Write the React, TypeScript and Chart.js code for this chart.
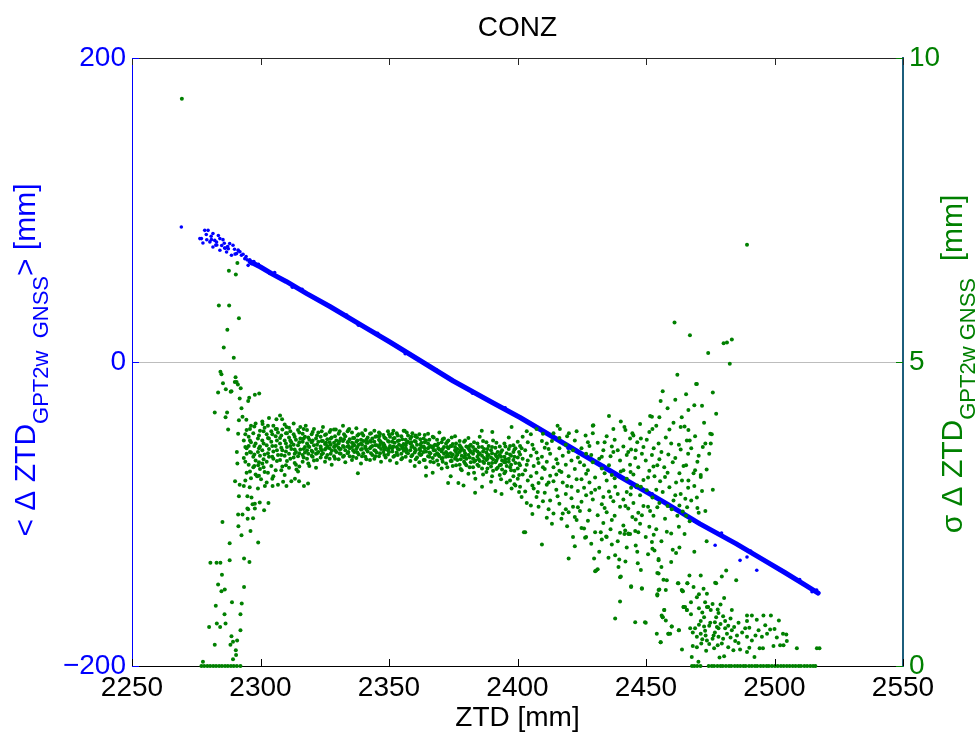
import React, { useEffect, useRef } from 'react';
import { Chart, registerables } from 'chart.js';

Chart.register(...registerables);

const FONT = "'Liberation Sans', Arial, Helvetica, sans-serif";
const BLUE = '#0000ff';
const GREEN = '#008000';
const RIGHT_AXIS = '#1c5e7c';

const chartTitle = 'CONZ';
const xAxisLabel = 'ZTD [mm]';
const xTicks = [2250, 2300, 2350, 2400, 2450, 2500, 2550];
const leftTicks = [-200, 0, 200];
const rightTicks = [0, 5, 10];

// < dZTD > : dense band vertices (mm ZTD, mm bias)
const biasBandZtd = [2296, 2300, 2305, 2310, 2318, 2327, 2341, 2350, 2363, 2375, 2390, 2401, 2415, 2427, 2440, 2458, 2471, 2485, 2497, 2504, 2512, 2517];
const biasBandValue = [66, 62.5, 57.5, 53, 45, 36.5, 22.5, 13.5, 0, -12.5, -26.5, -36.5, -50.5, -62.5, -75.5, -93.2, -106.5, -119.5, -131.5, -138.5, -146.8, -152];

// < dZTD > : individual dots
const biasDotZtd = [2269.2, 2278.3, 2279.6, 2281.5, 2277.0, 2277.6, 2280.3, 2282.2, 2284.2, 2285.4, 2288.0, 2289.3, 2281.5, 2284.2, 2286.8, 2288.7, 2290.7, 2292.6, 2293.9, 2295.2, 2296.5, 2298.4, 2301.0, 2303.6, 2283.0, 2286.0, 2276.4, 2291.5, 2287.5, 2294.8, 2305.5, 2312.4, 2316.2, 2322.9, 2333.5, 2338.1, 2345.6, 2356.3, 2368.4, 2382.5, 2395.2, 2408.6, 2419.7, 2433.3, 2446.2, 2452.4, 2463.5, 2468.8, 2479.4, 2490.7, 2501.6, 2509.8, 2514.6, 2516.4, 2507.2, 2476.9, 2486.6, 2489.3, 2493.1,
  2278.9, 2280.8, 2282.9, 2283.6, 2285.9, 2287.2, 2289.9, 2291.3, 2292.0, 2293.2, 2294.4, 2295.8, 2297.4, 2299.2, 2290.1, 2286.3, 2284.9, 2282.6, 2280.9, 2279.1];
const biasDotValue = [88.8, 86.6, 86.6, 84.5, 81.2, 78.3, 79.0, 80.0, 81.2, 80.5, 77.9, 76.8, 75.7, 73.5, 72.4, 70.2, 71.3, 70.2, 68.0, 63.6, 64.7, 63.6, 61.4, 58.2, 77.0, 75.0, 81.2, 73.0, 74.5, 67.2, 58.8, 49.2, 47.8, 40.1, 30.9, 24.2, 18.9, 5.4, -5.2, -20.6, -30.2, -44.1, -56.8, -68.2, -82.6, -86.7, -98.9, -104.6, -112.5, -124.4, -136.4, -143.2, -151.2, -150.0, -141.9, -120.6, -130.5, -128.3, -137.0,
  83.9, 82.7, 78.9, 83.2, 78.1, 76.0, 74.2, 73.6, 72.5, 70.9, 69.4, 67.3, 66.1, 64.2, 71.0, 74.9, 76.6, 76.9, 80.5, 80.4];

type Column = [number, number[]];

// sigma dZTD : columns of [ZTD, sigma values]
const sigmaSpike: Column[] = [
  [2269.4, [9.33]], [2277.6, [0.07]], [2280.0, [0.64]], [2280.5, [1.70]], [2282.2, [4.17, 0.35]],
  [2282.6, [0.99]], [2282.9, [1.70]], [2283.0, [0.70]], [2283.5, [4.50, 1.34]], [2283.8, [5.93]],
  [2284.3, [0.64]], [2284.4, [4.84, 1.70]], [2284.8, [4.80, 1.23]], [2285.0, [1.50]], [2285.2, [2.37]],
  [2285.4, [4.65]], [2285.7, [5.24]], [2286.0, [0.85]], [2286.1, [1.26]], [2286.4, [4.09, 0.70]],
  [2286.5, [4.55]], [2287.0, [4.17]], [2287.1, [5.53]], [2287.4, [3.89]], [2287.7, [6.50]],
  [2287.8, [5.93]], [2288.0, [2.02, 1.74]], [2288.3, [0.35]], [2288.4, [4.51]], [2288.7, [4.52, 0.49]],
  [2288.9, [1.05]], [2289.3, [0.40, 0.11]], [2289.6, [5.07]], [2290.0, [4.67]], [2290.1, [3.04]],
  [2290.3, [4.75]], [2290.4, [6.44, 0.26]], [2290.5, [0.18]], [2290.7, [4.67]], [2290.8, [3.52]],
  [2290.9, [0.42]], [2291.0, [6.63, 3.33]], [2291.2, [4.63]], [2291.3, [3.82, 2.49]], [2291.4, [2.30]],
  [2291.6, [5.72, 4.04, 2.79]], [2291.9, [4.40, 2.98]], [2292.2, [0.85, 0.59]], [2292.3, [4.57]], [2292.6, [4.24, 2.15]],
  [2292.7, [1.03]], [2293.0, [4.10, 2.49]], [2293.6, [1.30, 1.77]], [2294.5, [4.05]], [2294.9, [2.79, 2.59]],
  [2295.0, [2.42]], [2295.2, [4.36, 2.58]], [2295.6, [4.41]], [2295.7, [1.71]], [2296.1, [2.22]],
  [2296.5, [2.77]], [2296.9, [2.66]], [2297.1, [2.43]], [2297.8, [4.46, 2.67, 2.59]], [2299.1, [2.03]],
  [2299.5, [4.48]], [2299.7, [2.69]], [2301.4, [2.56]], [2303.1, [2.68]],
];

const sigmaBand: Column[] = [
  [2293.5, [3.42, 3.71, 2.96]], [2294.6, [3.58, 3.88, 3.18, 3.49]], [2295.4, [3.31, 3.77, 3.62]], [2296.3, [3.95, 3.51, 3.09, 3.68]],
  [2297.2, [3.44, 3.83, 3.27]], [2298.1, [3.66, 3.99, 3.38, 3.15]], [2299.0, [3.52, 3.74, 2.92]], [2299.8, [3.87, 3.46, 3.61, 3.24]],
  [2300.7, [3.71, 3.33, 4.02, 3.55]], [2301.6, [3.48, 3.92, 3.19]], [2302.4, [3.63, 3.81, 3.36, 3.02]], [2303.3, [3.57, 4.08, 3.44, 3.74]],
  [2304.2, [3.29, 3.69, 3.86]], [2305.0, [3.53, 3.95, 3.41, 3.12]], [2305.9, [3.78, 3.62, 3.22, 3.9]], [2306.8, [3.47, 3.84, 2.98]],
  [2307.6, [3.66, 3.39, 3.75, 4.12]], [2308.5, [3.55, 3.28, 3.89]], [2309.4, [3.71, 3.46, 3.97, 3.14]], [2310.3, [3.6, 3.83, 3.37]],
  [2311.1, [3.49, 3.76, 3.26, 3.92]], [2312.0, [3.68, 3.57, 3.04]], [2312.9, [3.81, 3.43, 3.64, 3.99]], [2313.8, [3.52, 3.72, 3.31]],
  [2314.6, [3.63, 3.88, 3.45, 3.2]], [2315.5, [3.74, 3.56, 3.93]], [2316.4, [3.47, 3.69, 3.82, 3.36]], [2317.3, [3.6, 3.51, 3.77]],
  [2318.1, [3.66, 3.41, 3.88, 3.55]], [2319.0, [3.72, 3.29, 3.6]], [2319.9, [3.54, 3.81, 3.46, 3.68]], [2320.8, [3.63, 3.38, 3.9]],
  [2321.6, [3.57, 3.74, 3.49, 3.26]], [2322.5, [3.69, 3.52, 3.84]], [2323.4, [3.61, 3.43, 3.77, 3.58]], [2324.3, [3.5, 3.7, 3.93]],
  [2325.1, [3.65, 3.56, 3.36, 3.8]], [2326.0, [3.73, 3.47, 3.62]], [2326.9, [3.58, 3.85, 3.41, 3.68]], [2327.7, [3.54, 3.76, 3.31]],
  [2328.6, [3.67, 3.6, 3.89, 3.45]], [2329.5, [3.71, 3.52, 3.63]], [2330.4, [3.59, 3.82, 3.4, 3.66]], [2331.2, [3.74, 3.49, 3.57]],
  [2332.1, [3.62, 3.95, 3.44, 3.7]], [2333.0, [3.55, 3.78, 3.35]], [2333.9, [3.68, 3.61, 3.86, 3.5]], [2334.7, [3.73, 3.45, 3.58]],
  [2335.6, [3.6, 3.84, 3.39, 3.67]], [2336.5, [3.52, 3.75, 3.63]], [2337.3, [3.69, 3.57, 3.91, 3.42]], [2338.2, [3.64, 3.81, 3.48]],
  [2339.1, [3.56, 3.72, 3.33, 3.66]], [2340.0, [3.7, 3.5, 3.79]], [2340.8, [3.61, 3.88, 3.44, 3.59]], [2341.7, [3.67, 3.53, 3.76]],
  [2342.6, [3.58, 3.82, 3.39, 3.7]], [2343.5, [3.74, 3.47, 3.62]], [2344.3, [3.55, 3.69, 3.87, 3.41]], [2345.2, [3.63, 3.78, 3.51]],
  [2346.1, [3.72, 3.45, 3.6, 3.84]], [2346.9, [3.57, 3.68, 3.36]], [2347.8, [3.66, 3.52, 3.8, 3.61]], [2348.7, [3.59, 3.74, 3.43]],
  [2349.6, [3.7, 3.55, 3.86, 3.48]], [2350.4, [3.62, 3.77, 3.38]], [2351.3, [3.53, 3.69, 3.58, 3.82]], [2352.2, [3.67, 3.46, 3.75]],
  [2353.0, [3.6, 3.83, 3.51, 3.34]], [2353.9, [3.71, 3.56, 3.64]], [2354.8, [3.49, 3.78, 3.62, 3.4]], [2355.7, [3.65, 3.54, 3.87]],
  [2356.5, [3.58, 3.72, 3.44, 3.63]], [2357.4, [3.69, 3.5, 3.79]], [2358.3, [3.55, 3.66, 3.37, 3.74]], [2359.1, [3.62, 3.47, 3.83]],
  [2360.0, [3.51, 3.7, 3.58, 3.29]], [2360.9, [3.64, 3.43, 3.76]], [2361.8, [3.57, 3.81, 3.49, 3.35]], [2362.6, [3.48, 3.67, 3.6]],
  [2363.5, [3.61, 3.39, 3.74, 3.52]], [2364.4, [3.53, 3.71, 3.27]], [2365.2, [3.66, 3.45, 3.58, 3.82]], [2366.1, [3.5, 3.62, 3.36]],
  [2367.0, [3.59, 3.77, 3.42, 3.18]], [2367.9, [3.47, 3.64, 3.55]], [2368.7, [3.63, 3.38, 3.72, 3.5]], [2369.6, [3.56, 3.45, 3.84]],
  [2370.5, [3.41, 3.68, 3.53, 3.25]], [2371.4, [3.6, 3.49, 3.74]], [2372.2, [3.52, 3.33, 3.66, 3.44]], [2373.1, [3.45, 3.71, 3.58]],
  [2374.0, [3.62, 3.37, 3.5, 3.12]], [2374.8, [3.48, 3.65, 3.29]], [2375.7, [3.55, 3.41, 3.78, 3.6]], [2376.6, [3.39, 3.57, 3.48]],
  [2377.5, [3.63, 3.31, 3.52, 3.7]], [2378.3, [3.46, 3.58, 3.22]], [2379.2, [3.54, 3.36, 3.69, 3.43]], [2380.1, [3.41, 3.61, 3.3]],
  [2380.9, [3.58, 3.47, 3.16, 3.75]], [2381.8, [3.35, 3.52, 3.64]], [2382.7, [3.49, 3.27, 3.6, 3.41]], [2383.6, [3.56, 3.38, 3.08]],
  [2384.4, [3.44, 3.66, 3.31, 3.53]], [2385.3, [3.37, 3.5, 3.77]], [2386.2, [3.6, 3.25, 3.46, 2.95]], [2387.0, [3.42, 3.57, 3.34]],
  [2387.9, [3.51, 3.19, 3.68, 3.39]], [2388.8, [3.33, 3.47, 3.62]], [2389.7, [3.55, 3.28, 3.43, 3.03]], [2390.5, [3.4, 3.71, 3.21]],
  [2391.4, [3.48, 3.35, 3.59, 2.88]], [2392.3, [3.26, 3.52, 3.42]], [2393.1, [3.61, 3.3, 3.47, 3.14]], [2394.0, [3.38, 3.55, 3.23]],
  [2394.9, [3.44, 3.17, 3.66, 3.35]], [2395.8, [3.29, 3.5, 3.02]], [2396.6, [3.57, 3.36, 3.41, 3.76]], [2397.5, [3.22, 3.46, 3.31]],
  [2398.4, [3.52, 3.12, 3.39, 3.63]], [2399.2, [3.34, 3.58, 2.97]], [2400.1, [3.43, 3.25, 3.69, 3.08]],
];

const sigmaBandFill: Column[] = [
  [2294.1, [3.36, 3.81, 3.05, 3.6]], [2295.9, [3.52, 3.2, 3.9, 3.71]], [2297.6, [3.29, 3.62, 3.94, 3.48]], [2299.4, [3.58, 3.35, 3.79, 3.13]],
  [2301.2, [3.66, 3.4, 3.27, 3.86]], [2302.9, [3.5, 3.75, 3.18, 3.95]], [2304.6, [3.62, 3.44, 3.81, 3.08]], [2306.4, [3.37, 3.71, 3.55, 3.9]],
  [2308.1, [3.59, 3.47, 3.79, 3.22]], [2309.9, [3.83, 3.53, 3.3, 3.66]], [2311.6, [3.62, 3.41, 3.86, 3.71]], [2313.3, [3.56, 3.77, 3.34, 3.49]],
  [2315.1, [3.68, 3.5, 3.84, 3.28]], [2316.8, [3.57, 3.74, 3.43, 3.9]], [2318.6, [3.76, 3.49, 3.62, 3.33]], [2320.3, [3.52, 3.71, 3.44, 3.85]],
  [2322.0, [3.64, 3.5, 3.79, 3.39]], [2323.8, [3.7, 3.48, 3.86, 3.55]], [2325.5, [3.58, 3.81, 3.43, 3.67]], [2327.3, [3.64, 3.49, 3.74, 3.88]],
  [2329.0, [3.55, 3.78, 3.41, 3.62]], [2330.8, [3.7, 3.5, 3.86, 3.57]], [2332.5, [3.6, 3.81, 3.46, 3.73]], [2334.2, [3.52, 3.69, 3.88, 3.62]],
  [2336.0, [3.75, 3.55, 3.44, 3.66]], [2337.7, [3.6, 3.79, 3.51, 3.71]], [2339.5, [3.64, 3.45, 3.83, 3.57]], [2341.2, [3.72, 3.56, 3.4, 3.67]],
  [2343.0, [3.6, 3.83, 3.5, 3.69]], [2344.7, [3.77, 3.54, 3.63, 3.45]], [2346.5, [3.64, 3.5, 3.82, 3.7]], [2348.2, [3.56, 3.76, 3.47, 3.63]],
  [2350.0, [3.69, 3.52, 3.81, 3.58]], [2351.7, [3.61, 3.44, 3.74, 3.87]], [2353.4, [3.7, 3.57, 3.47, 3.79]], [2355.2, [3.58, 3.73, 3.42, 3.62]],
  [2356.9, [3.67, 3.51, 3.84, 3.55]], [2358.7, [3.6, 3.77, 3.45, 3.68]], [2360.4, [3.55, 3.69, 3.4, 3.79]], [2362.2, [3.64, 3.47, 3.73, 3.54]],
  [2363.9, [3.58, 3.39, 3.68, 3.8]], [2365.7, [3.51, 3.72, 3.44, 3.6]], [2367.4, [3.62, 3.35, 3.55, 3.76]], [2369.2, [3.48, 3.66, 3.31, 3.58]],
  [2370.9, [3.57, 3.42, 3.73, 3.36]], [2372.7, [3.6, 3.49, 3.27, 3.69]], [2374.4, [3.44, 3.62, 3.37, 3.76]], [2376.1, [3.52, 3.3, 3.66, 3.45]],
  [2377.9, [3.4, 3.6, 3.24, 3.55]], [2379.6, [3.5, 3.33, 3.71, 3.46]], [2381.4, [3.43, 3.62, 3.27, 3.55]], [2383.1, [3.36, 3.54, 3.18, 3.68]],
  [2384.9, [3.48, 3.29, 3.6, 3.4]], [2386.6, [3.53, 3.36, 3.15, 3.7]], [2388.3, [3.41, 3.57, 3.25, 3.46]], [2390.1, [3.34, 3.6, 3.12, 3.5]],
  [2391.8, [3.45, 3.24, 3.67, 3.38]], [2393.6, [3.31, 3.52, 3.07, 3.44]], [2395.3, [3.4, 3.61, 3.2, 3.35]], [2397.1, [3.27, 3.48, 3.05, 3.62]],
  [2398.8, [3.44, 3.21, 3.56, 2.99]], [2400.6, [3.33, 3.52, 3.14, 2.86]],
];

const sigmaBandEdges: Column[] = [
  [2298.7, [3.12]], [2300.2, [3.07]], [2295.8, [2.94]], [2301.7, [2.96]], [2304.7, [2.96]], [2308.8, [3.03]],
  [2310.1, [2.96, 3.93]], [2313.4, [3.08]], [2315.0, [3.04]], [2316.9, [2.96]], [2318.5, [3.0]], [2314.0, [3.23]],
  [2299.1, [3.3]], [2300.8, [3.98]], [2306.2, [4.06]], [2308.4, [4.06]], [2317.6, [3.95]], [2337.9, [3.17]],
  [2346.2, [3.78]], [2329.3, [3.89]], [2334.5, [3.9]], [2356.1, [3.87]], [2360.2, [3.78]], [2364.4, [3.13]],
  [2397.7, [3.93, 2.92]], [2390.2, [3.85]], [2386.1, [3.87]], [2383.5, [2.85]], [2373.0, [3.01]], [2377.0, [3.01]],
  [2379.0, [2.97]], [2393.8, [2.83]], [2402.5, [2.2]], [2416.5, [3.9]], [2420.0, [3.83]], [2426.5, [3.79]], [2429.5, [3.96]],
];

const sigmaSpread: Column[] = [
  [2401.0, [3.3, 3.62, 2.95, 3.48]], [2402.0, [3.15, 3.77, 3.41]], [2403.0, [2.2, 3.55, 3.22, 2.87]], [2404.0, [3.38, 3.05, 3.68]],
  [2405.2, [2.64, 3.46, 3.12, 3.81]], [2406.3, [3.29, 2.92, 3.57]], [2407.4, [3.51, 3.18, 2.78, 3.9]], [2408.2, [2.62, 3.34, 3.01]],
  [2409.5, [2.0, 3.44, 3.09, 3.7]], [2410.6, [3.24, 2.85, 3.59]], [2411.4, [2.44, 3.36, 3.66, 2.98]], [2412.7, [3.13, 3.49, 2.72]],
  [2414.0, [2.51, 3.27, 3.83, 3.04]], [2415.1, [3.4, 2.9, 3.15]], [2416.3, [3.58, 2.67, 3.21, 3.75]], [2417.6, [2.51, 3.02, 3.46]],
  [2418.8, [3.31, 2.83, 3.64, 2.58]], [2419.9, [1.77, 2.53, 3.12, 3.52]], [2421.0, [3.38, 2.76, 2.95]], [2422.3, [1.97, 2.45, 3.24, 3.71]],
  [2423.5, [2.88, 3.43, 2.61]], [2424.9, [2.27, 3.07, 3.58, 2.7]], [2425.9, [2.26, 3.3, 2.93]], [2426.7, [2.12, 3.49, 2.81, 3.16]],
  [2428.0, [3.62, 2.56, 3.02]], [2429.3, [3.95, 2.74, 3.35, 3.83]], [2430.2, [1.56, 2.2, 3.1, 2.9]], [2431.2, [1.59, 2.48, 3.67]],
  [2432.8, [2.08, 3.25, 2.66, 3.44]], [2433.4, [2.78, 3.55, 2.35]], [2434.7, [2.12, 3.05, 2.53, 3.78]], [2435.6, [4.11, 2.87, 3.3]],
  [2436.7, [2.0, 2.4, 3.14, 3.61]], [2437.3, [3.52, 2.71, 3.9]], [2438.0, [1.82, 2.95, 0.78]], [2439.9, [1.46, 2.19, 3.38, 1.06, 2.62]],
  [2440.2, [4.02, 1.47, 3.2]], [2426.3, [2.11]], [2429.8, [1.77]], [2430.6, [1.57]], [2432.4, [2.2]], [2434.5, [2.13]],
  [2435.4, [1.78]], [2439.6, [1.75]], [2439.3, [1.63]], [2441.9, [2.23]], [2443.2, [2.17]], [2446.8, [1.69]],
  [2441.2, [3.22, 2.74, 3.61, 2.31]], [2441.6, [2.17, 3.93]], [2442.5, [2.86, 3.47, 1.95, 3.08]], [2443.1, [3.52, 2.18, 2.59]],
  [2443.8, [2.17, 3.31, 3.74]], [2444.2, [1.31, 2.93, 3.56]], [2444.7, [3.83, 2.45]], [2445.1, [3.79, 2.68, 3.15]],
  [2445.8, [0.72, 2.22, 3.42]], [2446.6, [1.88, 2.97, 3.68]], [2447.0, [2.2, 3.27, 2.52]], [2447.7, [3.98, 2.34, 2.81]],
  [2448.4, [1.28, 2.48, 3.49]], [2449.0, [3.6, 2.63, 3.06]], [2449.9, [0.71, 3.38, 2.12]], [2450.3, [2.89, 3.72]],
  [2451.3, [3.85, 2.29, 3.21]], [2451.6, [4.11, 2.55]], [2452.3, [4.1, 2.04, 3.47]], [2452.5, [3.9, 1.93, 2.77]],
  [2453.0, [2.16, 3.58]], [2453.3, [1.9, 3.12]], [2454.4, [3.3, 1.53, 1.18, 2.61]], [2454.9, [1.52, 1.74, 1.25, 3.66]],
  [2455.2, [4.09, 2.68, 3.4]], [2455.5, [3.04]], [2455.7, [4.36, 0.39]], [2456.5, [4.52, 0.8, 2.86]],
  [2457.1, [0.92, 3.27]], [2457.4, [3.11, 2.42]], [2457.7, [0.75, 3.76]], [2458.1, [1.41, 2.21]],
  [2458.7, [0.53, 3.48]], [2459.1, [2.94, 3.89]], [2460.0, [0.65, 2.58]], [2460.4, [1.91, 3.35]],
  [2460.7, [4.0, 2.72]], [2461.1, [5.65]], [2461.7, [1.86, 3.02]], [2462.2, [4.79, 2.47]],
  [2462.8, [2.29, 0.59, 3.64]], [2463.5, [3.93, 3.56, 2.83]], [2463.9, [4.09]], [2464.0, [3.05, 0.27]],
  [2464.3, [1.23, 2.54]], [2464.6, [0.97, 3.29]], [2465.0, [3.94, 2.17]], [2465.3, [2.75]],
  [2465.9, [0.92, 3.71]], [2466.0, [2.61]], [2466.1, [1.36]], [2466.4, [3.49, 2.93]],
  [2466.5, [4.21, 3.88, 3.05]], [2467.0, [3.71, 2.38]], [2467.1, [5.44]], [2469.1, [3.78, 3.22]],
  [2469.5, [4.64]], [2469.8, [4.64, 2.77]], [2470.5, [2.52, 3.46]], [2471.3, [3.11, 3.14]],
  [2472.1, [3.6]], [2472.6, [4.0]], [2473.1, [3.66, 2.55]], [2474.2, [5.15]], [2475.0, [3.82]],
  [2475.2, [3.66]], [2475.6, [3.81]], [2477.3, [4.15]], [2480.2, [5.31]], [2481.5, [5.32]],
  [2482.6, [4.97]], [2483.4, [5.37]], [2489.3, [6.93]],
];

const sigmaSpreadFill: Column[] = [
  [2401.6, [2.78, 3.58]], [2403.6, [3.31, 2.68, 3.86]], [2405.8, [2.97, 3.64, 2.5]], [2407.9, [3.41, 2.86]],
  [2409.9, [3.27, 2.71, 3.82]], [2412.1, [2.58, 3.57, 3.02]], [2413.4, [3.7, 2.34]], [2415.6, [2.79, 3.33, 3.95]],
  [2417.1, [3.19, 2.42]], [2419.3, [2.96, 3.78, 2.3]], [2421.6, [3.55, 2.62, 2.12]], [2423.0, [3.07, 3.86, 2.4]],
  [2424.3, [3.35, 2.55]], [2427.4, [2.39, 3.22, 3.68]], [2428.7, [2.85, 2.01, 3.47]], [2431.8, [2.93, 3.41, 1.88]],
  [2433.9, [3.68, 2.6, 3.17]], [2436.2, [2.78, 3.45, 2.25]], [2437.8, [3.09, 2.47, 3.72]], [2439.0, [2.83, 3.55, 2.05]],
  [2442.0, [2.63, 3.88, 1.72]], [2444.0, [2.82, 3.19]], [2446.0, [3.55, 2.41, 1.98]], [2448.0, [2.95, 3.74, 1.58]],
  [2450.8, [2.62, 3.1, 1.84]], [2452.9, [3.28, 2.47]], [2454.0, [2.9, 3.95, 2.25]], [2456.0, [3.52, 2.05, 1.63]],
  [2458.4, [2.63, 3.18, 4.24]], [2459.8, [2.18, 3.66, 1.71]], [2461.4, [3.42, 2.81, 4.38]], [2463.0, [2.64, 3.17, 1.95]],
  [2465.6, [3.3, 2.47, 4.47]], [2467.6, [2.72, 3.58]], [2468.8, [2.96, 4.29, 1.88]], [2470.0, [3.36, 2.6]],
  [2471.8, [4.28, 2.88]], [2473.6, [3.23, 2.05]], [2476.0, [4.5, 2.9]], [2474.6, [3.49]],
];

const sigmaLow: Column[] = [
  [2454.9, [1.76]], [2456.8, [1.42]], [2457.7, [1.25]], [2463.9, [1.25]], [2462.6, [1.36]], [2466.9, [1.49]],
  [2471.3, [1.49, 0.53, 0.74]], [2477.3, [1.36, 0.8]], [2479.5, [1.47, 0.37]], [2465.2, [0.97]], [2473.7, [0.97, 1.19, 0.42]],
  [2478.2, [0.87, 0.62, 0.48]], [2483.4, [0.92, 0.59]], [2456.1, [0.83]], [2449.6, [0.72]], [2454.2, [0.53]],
  [2459.4, [0.53]], [2470.4, [0.07]], [2462.4, [1.36]], [2466.1, [1.36]], [2464.3, [1.23]], [2468.5, [1.3, 3.17]],
  [2472.4, [1.27]], [2469.8, [1.13, 0.48, 0.31]], [2464.6, [0.97]], [2465.9, [0.92]], [2457.1, [0.92]],
  [2456.5, [0.8]], [2460.0, [0.65]], [2462.8, [0.59]], [2458.7, [0.53]], [2455.7, [0.39]], [2467.2, [0.62]],
  [2469.1, [0.62]], [2471.5, [0.37]], [2472.6, [0.8, 0.65]], [2474.2, [0.97]], [2475.2, [0.92]], [2477.6, [0.64]],
  [2476.3, [0.5]], [2473.4, [0.25]], [2480.8, [0.62, 0.74]], [2481.5, [0.53]], [2485.4, [0.5]], [2484.7, [0.41]],
  [2480.4, [1.12, 0.16]], [2476.9, [1.37]], [2481.2, [1.57]], [2485.1, [1.41]], [2489.3, [0.83, 0.74, 0.48, 0.23]],
  [2491.2, [0.83, 0.42]], [2493.1, [0.76]], [2495.7, [0.83]], [2498.6, [0.83]], [2488.6, [0.62]], [2493.8, [0.59]],
  [2495.1, [0.48]], [2497.1, [0.53]], [2498.3, [0.6]], [2500.9, [0.47]], [2503.3, [0.53]], [2504.6, [0.52]],
  [2502.2, [0.34]], [2503.5, [0.34]], [2495.5, [0.29]], [2494.2, [0.29]], [2492.2, [0.15]], [2486.6, [0.27]],
  [2484.0, [0.26]], [2478.6, [0.14]], [2476.5, [0.29]], [2508.7, [0.29]], [2516.5, [0.29]], [2517.5, [0.29]],
  [2499.6, [0.33]], [2504.8, [0.41]], [2467.8, [0.15]], [2475.0, [0.71]], [2473.2, [0.5]],
  [2467.5, [0.85, 1.05]], [2468.2, [0.55, 0.33]], [2470.6, [0.95, 0.68, 1.18]], [2471.9, [0.44, 0.88]],
  [2473.0, [1.05, 0.58]], [2474.6, [0.36, 0.66]], [2475.9, [1.02, 0.45]], [2476.8, [0.72, 0.55]],
  [2477.9, [0.93, 0.34]], [2479.0, [0.69, 1.01]], [2480.0, [0.45, 0.82]], [2482.0, [0.66, 0.31]],
  [2482.9, [0.78, 0.47]], [2484.3, [0.64]], [2486.0, [0.38, 0.71]], [2487.4, [0.55]], [2490.2, [0.63, 0.3]],
  [2492.6, [0.5]], [2496.4, [0.67]], [2500.0, [0.61]], [2501.7, [0.75]], [2444.2, [1.3]], [2448.4, [1.27]],
  [2454.4, [1.16]], [2455.2, [1.26]],
];

const sigmaZeroZtd = [
  2277.0, 2278.1, 2279.3, 2280.4, 2281.6, 2282.7, 2283.9, 2285.0, 2286.2, 2287.3, 2288.5, 2289.6, 2290.8, 2292.2,
  2467.9, 2468.8, 2469.9, 2471.2, 2474.4, 2475.6, 2476.5, 2477.8, 2479.0, 2479.9, 2481.1, 2482.3, 2483.2, 2484.5,
  2485.6, 2486.7, 2487.9, 2488.8, 2490.1, 2491.2, 2492.4, 2493.3, 2494.6, 2495.7, 2496.9, 2497.8, 2499.0, 2500.2,
  2501.3, 2502.5, 2503.6, 2504.8, 2505.9, 2507.1, 2508.2, 2509.4, 2510.3, 2511.6, 2512.7, 2513.9, 2515.0, 2515.9,
];

type Part = { text: string; sub?: boolean };
const leftLabelParts: Part[] = [
  { text: '< \u0394 ZTD' },
  { text: 'GPT2w  GNSS', sub: true },
  { text: '> [mm]' },
];
const rightLabelParts: Part[] = [
  { text: '\u03c3 \u0394 ZTD' },
  { text: 'GPT2w GNSS', sub: true },
  { text: '  [mm]' },
];

const MAIN_SIZE = 30;
const SUB_SIZE = 22;

function drawRich(ctx: CanvasRenderingContext2D, parts: Part[], baseX: number, centerY: number, color: string) {
  ctx.save();
  ctx.fillStyle = color;
  ctx.textBaseline = 'alphabetic';
  ctx.textAlign = 'left';
  let total = 0;
  const widths = parts.map((p) => {
    ctx.font = `${p.sub ? SUB_SIZE : MAIN_SIZE}px ${FONT}`;
    const w = ctx.measureText(p.text).width;
    total += w;
    return w;
  });
  ctx.translate(baseX, centerY);
  ctx.rotate(-Math.PI / 2);
  let x = -total / 2;
  parts.forEach((p, i) => {
    ctx.font = `${p.sub ? SUB_SIZE : MAIN_SIZE}px ${FONT}`;
    ctx.fillText(p.text, x, p.sub ? 13 : 0);
    x += widths[i];
  });
  ctx.restore();
}

const decorPlugin = {
  id: 'decor',
  afterDraw(chart: any) {
    const { ctx, chartArea: a, scales } = chart;
    const xs = scales.x;
    const yl = scales.y;
    const yr = scales.y2;
    ctx.save();
    ctx.lineWidth = 1;
    ctx.strokeStyle = '#262626';
    ctx.beginPath();
    ctx.moveTo(a.left, Math.round(a.top) + 0.5);
    ctx.lineTo(a.right, Math.round(a.top) + 0.5);
    ctx.stroke();
    xTicks.forEach((v) => {
      const px = Math.round(xs.getPixelForValue(v)) + 0.5;
      ctx.strokeStyle = '#000000';
      ctx.beginPath();
      ctx.moveTo(px, a.bottom);
      ctx.lineTo(px, a.bottom - 7);
      ctx.stroke();
      ctx.strokeStyle = '#262626';
      ctx.beginPath();
      ctx.moveTo(px, a.top);
      ctx.lineTo(px, a.top + 7);
      ctx.stroke();
    });
    leftTicks.forEach((v) => {
      const py = Math.round(yl.getPixelForValue(v)) + 0.5;
      ctx.strokeStyle = BLUE;
      ctx.beginPath();
      ctx.moveTo(a.left, py);
      ctx.lineTo(a.left + 7, py);
      ctx.stroke();
    });
    rightTicks.forEach((v) => {
      const py = Math.round(yr.getPixelForValue(v)) + 0.5;
      ctx.strokeStyle = GREEN;
      ctx.beginPath();
      ctx.moveTo(a.right - 7, py);
      ctx.lineTo(a.right, py);
      ctx.stroke();
    });
    const cy = (a.top + a.bottom) / 2;
    drawRich(ctx, leftLabelParts, 35, cy - 2, BLUE);
    drawRich(ctx, rightLabelParts, 962, cy + 2, GREEN);
    ctx.restore();
  },
};

const fmt = (v: number) => (v < 0 ? '\u2212' + Math.abs(v) : String(v));
const colsToPoints = (cols: Column[]) => cols.flatMap(([x, ys]) => ys.map((y) => ({ x, y })));

export default function App() {
  const ref = useRef<HTMLCanvasElement | null>(null);
  useEffect(() => {
    if (!ref.current) return;
    const band = biasBandZtd.map((x, i) => ({ x, y: biasBandValue[i] }));
    const dots = biasDotZtd.map((x, i) => ({ x, y: biasDotValue[i] }));
    const sigma = [
      ...colsToPoints(sigmaSpike),
      ...colsToPoints(sigmaBand),
      ...colsToPoints(sigmaBandFill),
      ...colsToPoints(sigmaBandEdges),
      ...colsToPoints(sigmaSpread),
      ...colsToPoints(sigmaSpreadFill),
      ...colsToPoints(sigmaLow),
      ...sigmaZeroZtd.map((x) => ({ x, y: 0 })),
    ];
    const tickFont = { family: FONT, size: 28 };
    const chart = new Chart(ref.current, {
      type: 'scatter',
      data: {
        datasets: [
          {
            label: 'sigma',
            data: sigma,
            yAxisID: 'y2',
            pointRadius: 2.0,
            pointBorderWidth: 0,
            pointBackgroundColor: GREEN,
            backgroundColor: GREEN,
            borderColor: GREEN,
            order: 0,
            clip: false as any,
          },
          {
            label: 'bias dots',
            data: dots,
            yAxisID: 'y',
            pointRadius: 1.8,
            pointBorderWidth: 0,
            pointBackgroundColor: BLUE,
            backgroundColor: BLUE,
            borderColor: BLUE,
            order: 1,
          },
          {
            label: 'bias band',
            data: band,
            yAxisID: 'y',
            showLine: true,
            borderWidth: 5,
            borderColor: BLUE,
            pointRadius: 0,
            tension: 0,
            borderCapStyle: 'round',
            borderJoinStyle: 'round',
            order: 2,
          } as any,
        ],
      },
      options: {
        animation: false,
        responsive: true,
        maintainAspectRatio: false,
        devicePixelRatio: 1,
        events: [],
        layout: { padding: 0 },
        plugins: {
          legend: { display: false },
          tooltip: { enabled: false },
          title: {
            display: true,
            fullSize: false,
            text: chartTitle,
            color: '#000000',
            font: { family: FONT, size: 28, weight: 'normal' },
            padding: { top: 11, bottom: 13.4 },
          },
        },
        scales: {
          x: {
            type: 'linear',
            position: 'bottom',
            min: xTicks[0],
            max: xTicks[xTicks.length - 1],
            afterBuildTicks: (s: any) => { s.ticks = xTicks.map((value) => ({ value })); },
            afterFit: (s: any) => { s.height = 72; },
            ticks: { color: '#000000', font: tickFont, padding: 5, maxRotation: 0, autoSkip: false, callback: (v: any) => String(v) },
            grid: { display: true, drawOnChartArea: false, drawTicks: false },
            border: { display: true, color: '#000000', width: 1 },
            title: {
              display: true,
              text: xAxisLabel,
              color: '#000000',
              font: { family: FONT, size: 28 },
              padding: { top: 0, bottom: 3 },
            },
          },
          y: {
            type: 'linear',
            position: 'left',
            min: leftTicks[0],
            max: leftTicks[leftTicks.length - 1],
            afterBuildTicks: (s: any) => { s.ticks = leftTicks.map((value) => ({ value })); },
            afterFit: (s: any) => { s.width = 132; },
            ticks: { color: BLUE, font: tickFont, padding: 6, callback: (v: any) => fmt(Number(v)) },
            grid: {
              display: true,
              drawTicks: false,
              drawOnChartArea: true,
              lineWidth: 1,
              color: (c: any) => (c.tick && c.tick.value === 0 ? '#bdbdbd' : 'rgba(0,0,0,0)'),
            },
            border: { display: true, color: BLUE, width: 1 },
          },
          y2: {
            type: 'linear',
            position: 'right',
            min: rightTicks[0],
            max: rightTicks[rightTicks.length - 1],
            afterBuildTicks: (s: any) => { s.ticks = rightTicks.map((value) => ({ value })); },
            afterFit: (s: any) => { s.width = 77; },
            ticks: { color: GREEN, font: tickFont, padding: 6, callback: (v: any) => String(v) },
            grid: { display: true, drawOnChartArea: false, drawTicks: false },
            border: { display: true, color: RIGHT_AXIS, width: 2 },
          },
        },
      },
      plugins: [decorPlugin],
    } as any);
    return () => chart.destroy();
  }, []);
  return (
    <div style={{ position: 'absolute', left: 0, top: 0, width: 980, height: 738, background: '#ffffff' }}>
      <canvas ref={ref} style={{ display: 'block' }} />
    </div>
  );
}
